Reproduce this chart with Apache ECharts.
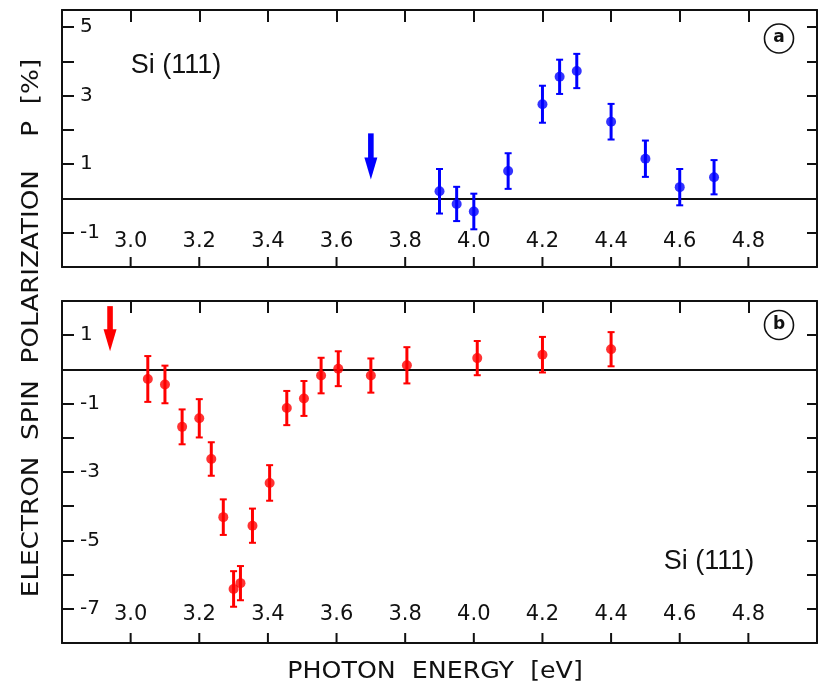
<!DOCTYPE html>
<html>
<head>
<meta charset="utf-8">
<script src="https://cdn.jsdelivr.net/npm/echarts@6/dist/echarts.min.js"></script>
<style>
  html, body { margin: 0; padding: 0; background: #fff; }
  #chart { width: 823px; height: 688px; }
</style>
</head>
<body>
<div id="chart"></div>
<script>
// Photon energy tick labels (eV)
const xTicks = [3.0, 3.2, 3.4, 3.6, 3.8, 4.0, 4.2, 4.4, 4.6, 4.8];

// Panel (a): electron spin polarization P [%] with error bars
const energyA = [3.90, 3.95, 4.00, 4.10, 4.20, 4.25, 4.30, 4.40, 4.50, 4.60, 4.70];
const polA    = [0.21, -0.16, -0.38, 0.80, 2.75, 3.55, 3.72, 2.24, 1.16, 0.33, 0.62];
const errA    = [0.65, 0.50, 0.52, 0.52, 0.54, 0.50, 0.50, 0.52, 0.53, 0.53, 0.50];
// upper-limit arrow: energy, arrow start, arrow tip
const limitA  = [3.70, 1.90, 0.55];
const yRangeA = [-2, 5.5];
const yLabelsA = [5, 3, 1, -1];

// Panel (b)
const energyB = [3.05, 3.10, 3.15, 3.20, 3.235, 3.27, 3.30, 3.32, 3.355, 3.405,
                 3.455, 3.505, 3.555, 3.605, 3.70, 3.805, 4.01, 4.20, 4.40];
const polB    = [-0.28, -0.44, -1.68, -1.43, -2.62, -4.32, -6.42, -6.25, -4.57, -3.32,
                 -1.13, -0.85, -0.18, 0.02, -0.18, 0.12, 0.33, 0.43, 0.59];
const errB    = [0.67, 0.55, 0.51, 0.56, 0.49, 0.52, 0.52, 0.50, 0.50, 0.52,
                 0.50, 0.51, 0.52, 0.51, 0.50, 0.53, 0.50, 0.52, 0.50];
const limitB  = [2.94, 1.85, 0.53];
const yRangeB = [-8, 2];
const yLabelsB = [1, -1, -3, -5, -7];

const INK = '#111';
const BLUE = '#0000ff';
const RED = '#ff0000';
const TICK_FONT = '"DejaVu Sans", sans-serif';

function frameLine() {
  return { show: true, onZero: false, lineStyle: { color: INK, width: 2 } };
}

function xAxisPair(gridIndex, labelMargin) {
  const common = {
    type: 'value', gridIndex: gridIndex, min: 2.8, max: 5.0, interval: 0.2,
    splitLine: { show: false }
  };
  return [
    Object.assign({}, common, {
      position: 'bottom', axisLine: frameLine(),
      axisTick: { show: false },
      axisLabel: {
        inside: true, margin: labelMargin, color: INK,
        fontFamily: TICK_FONT, fontSize: 21,
        formatter: function (v) {
          return xTicks.some(function (t) { return Math.abs(t - v) < 1e-6; }) ? v.toFixed(1) : '';
        }
      }
    }),
    Object.assign({}, common, {
      position: 'top', axisLine: frameLine(),
      axisTick: { show: true, inside: true, length: 12, lineStyle: { color: INK, width: 2 } },
      axisLabel: { show: false }
    })
  ];
}

function yAxisPair(gridIndex, range, shown) {
  const common = {
    type: 'value', gridIndex: gridIndex, min: range[0], max: range[1], interval: 1,
    splitLine: { show: false }
  };
  return [
    Object.assign({}, common, {
      position: 'left', axisLine: frameLine(),
      axisTick: { show: true, inside: true, length: 12, lineStyle: { color: INK, width: 2 } },
      axisLabel: {
        inside: true, margin: 18, color: INK,
        fontFamily: TICK_FONT, fontSize: 20,
        formatter: function (v) { return shown.indexOf(v) >= 0 ? String(v) : ''; }
      }
    }),
    Object.assign({}, common, {
      position: 'right', axisLine: frameLine(),
      axisTick: { show: true, inside: true, length: 10, lineStyle: { color: INK, width: 2 } },
      axisLabel: { show: false }
    })
  ];
}

function errorBarRenderer(color) {
  return function (params, api) {
    const x = api.value(0), y = api.value(1), e = api.value(2);
    const hi = api.coord([x, y + e]);
    const lo = api.coord([x, y - e]);
    const cap = 3.5;
    return {
      type: 'group',
      children: [
        { type: 'line', shape: { x1: hi[0], y1: hi[1], x2: lo[0], y2: lo[1] },
          style: { stroke: color, lineWidth: 3 } },
        { type: 'line', shape: { x1: hi[0] - cap, y1: hi[1], x2: hi[0] + cap, y2: hi[1] },
          style: { stroke: color, lineWidth: 2 } },
        { type: 'line', shape: { x1: lo[0] - cap, y1: lo[1], x2: lo[0] + cap, y2: lo[1] },
          style: { stroke: color, lineWidth: 2 } }
      ]
    };
  };
}

function limitArrowRenderer(color) {
  return function (params, api) {
    const x = api.value(0);
    const start = api.coord([x, api.value(1)]);
    const tip = api.coord([x, api.value(2)]);
    const headLen = 22, headHalf = 6.5, shaftHalf = 2.8;
    const neck = tip[1] - headLen;
    return {
      type: 'group',
      children: [
        { type: 'rect',
          shape: { x: start[0] - shaftHalf, y: start[1], width: 2 * shaftHalf, height: neck - start[1] + 1 },
          style: { fill: color } },
        { type: 'polygon',
          shape: { points: [[tip[0] - headHalf, neck], [tip[0] + headHalf, neck], [tip[0], tip[1]]] },
          style: { fill: color } }
      ]
    };
  };
}

function zeroLine() {
  return {
    silent: true, symbol: 'none', label: { show: false },
    lineStyle: { color: INK, width: 2, type: 'solid' },
    data: [{ yAxis: 0 }]
  };
}

function panelSeries(xIdx, yIdx, energy, pol, err, limit, color) {
  return [
    {
      type: 'custom', xAxisIndex: xIdx, yAxisIndex: yIdx, z: 6,
      renderItem: errorBarRenderer(color),
      encode: { x: 0, y: 1 },
      data: energy.map(function (e, i) { return [e, pol[i], err[i]]; })
    },
    {
      type: 'scatter', xAxisIndex: xIdx, yAxisIndex: yIdx, z: 7,
      symbol: 'circle', symbolSize: 10,
      itemStyle: { color: color },
      data: energy.map(function (e, i) { return [e, pol[i]]; }),
      markLine: zeroLine()
    },
    {
      type: 'custom', xAxisIndex: xIdx, yAxisIndex: yIdx, z: 6,
      renderItem: limitArrowRenderer(color),
      encode: { x: 0, y: [1, 2] },
      data: [limit]
    }
  ];
}

const annotations = [
  { type: 'text', x: 176, y: 66,
    style: { text: 'Si (111)', font: '27px "Liberation Sans", sans-serif', fill: INK,
             align: 'center', verticalAlign: 'middle', textAlign: 'center', textVerticalAlign: 'middle' } },
  { type: 'text', x: 709, y: 562,
    style: { text: 'Si (111)', font: '27px "Liberation Sans", sans-serif', fill: INK,
             align: 'center', verticalAlign: 'middle', textAlign: 'center', textVerticalAlign: 'middle' } },
  { type: 'circle', shape: { cx: 779, cy: 38.5, r: 14.5 },
    style: { fill: 'none', stroke: INK, lineWidth: 1.6 } },
  { type: 'text', x: 779, y: 38,
    style: { text: 'a', font: 'bold 17px "DejaVu Sans", sans-serif', fill: INK,
             align: 'center', verticalAlign: 'middle', textAlign: 'center', textVerticalAlign: 'middle' } },
  { type: 'circle', shape: { cx: 779, cy: 325, r: 14.5 },
    style: { fill: 'none', stroke: INK, lineWidth: 1.6 } },
  { type: 'text', x: 779, y: 324.5,
    style: { text: 'b', font: 'bold 17px "DejaVu Sans", sans-serif', fill: INK,
             align: 'center', verticalAlign: 'middle', textAlign: 'center', textVerticalAlign: 'middle' } },
  { type: 'text', x: 32, y: 328, rotation: Math.PI / 2, scaleX: 1.14,
    style: { text: 'ELECTRON  SPIN  POLARIZATION    P  [%]', font: '23px "DejaVu Sans", sans-serif', fill: INK,
             align: 'center', verticalAlign: 'middle', textAlign: 'center', textVerticalAlign: 'middle' } },
  { type: 'text', x: 435, y: 672, scaleX: 1.1,
    style: { text: 'PHOTON  ENERGY  [eV]', font: '23px "DejaVu Sans", sans-serif', fill: INK,
             align: 'center', verticalAlign: 'middle', textAlign: 'center', textVerticalAlign: 'middle' } }
];

const chart = echarts.init(document.getElementById('chart'));

chart.setOption({
  animation: false,
  backgroundColor: '#fff',
  grid: [
    { left: 62, top: 10, width: 755, height: 257 },
    { left: 62, top: 301, width: 755, height: 342 }
  ],
  xAxis: [].concat(xAxisPair(0, 15), xAxisPair(1, 18)),
  yAxis: [].concat(yAxisPair(0, yRangeA, yLabelsA), yAxisPair(1, yRangeB, yLabelsB)),
  series: [].concat(
    panelSeries(0, 0, energyA, polA, errA, limitA, BLUE),
    panelSeries(2, 2, energyB, polB, errB, limitB, RED)
  ),
  graphic: annotations
});

// Upward tick marks along each panel's lower frame edge, placed through the axis scales
function bottomTicks(xAxisIndex, yAxisIndex, yMin) {
  return xTicks.map(function (t) {
    const p = chart.convertToPixel({ xAxisIndex: xAxisIndex, yAxisIndex: yAxisIndex }, [t, yMin]);
    return {
      type: 'line', z: 100, silent: true,
      shape: { x1: p[0], y1: p[1], x2: p[0], y2: p[1] - 10 },
      style: { stroke: INK, lineWidth: 2 }
    };
  });
}

chart.setOption({
  graphic: annotations.concat(bottomTicks(0, 0, yRangeA[0]), bottomTicks(2, 2, yRangeB[0]))
});
</script>
</body>
</html>
